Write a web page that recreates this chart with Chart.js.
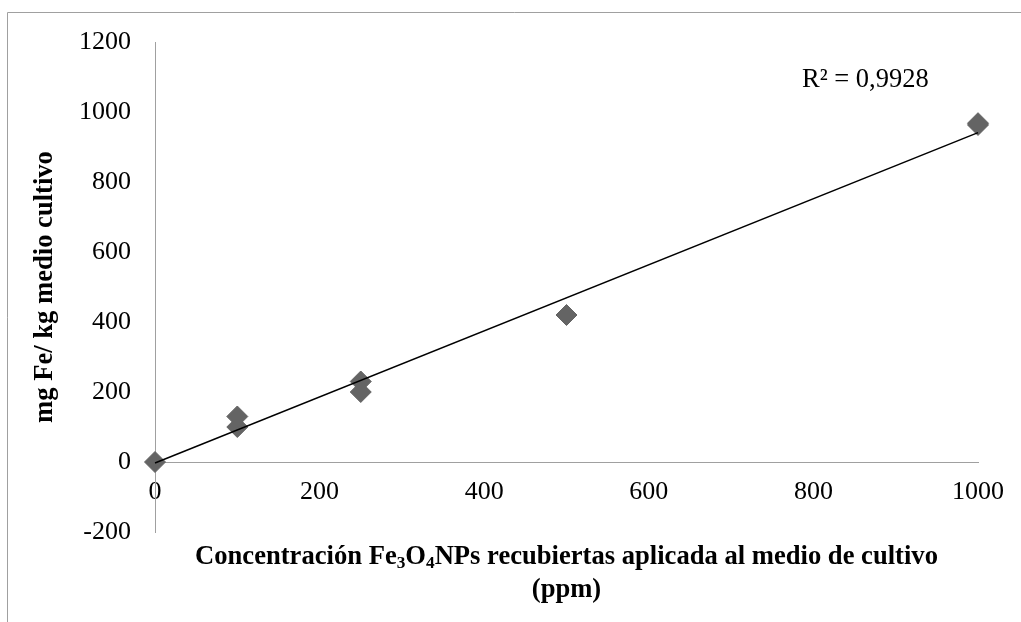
<!DOCTYPE html>
<html><head><meta charset="utf-8">
<script src="https://cdn.jsdelivr.net/npm/chart.js@4.4.1/dist/chart.umd.min.js"></script>
<style>html,body{margin:0;padding:0;background:#fff;overflow:hidden}#wrap{position:relative;width:1021px;height:622px}</style>
</head><body><div id="wrap"><canvas id="c" width="1021" height="622"></canvas></div>
<script>
const xValues = [0, 100, 100, 250, 250, 500, 1000, 1000];
const yValues = [0, 100, 130, 200, 230, 420, 963, 968];
const trendX = [0, 1000];
const trendY = [-3, 941];
const xTicks = [0, 200, 400, 600, 800, 1000];
const yTicks = [-200, 0, 200, 400, 600, 800, 1000, 1200];
const rSquaredLabel = 'R² = 0,9928';
const yTitle = 'mg Fe/ kg medio cultivo';
const xTitleRuns = [['Concentración Fe', false], ['3', true], ['O', false], ['4', true], ['NPs recubiertas aplicada al medio de cultivo', false]];
const xTitleLine2 = '(ppm)';

const FAMILY = "'Liberation Serif', 'Times New Roman', serif";
const AXIS_GRAY = '#a0a0a0';

const decor = {
  id: 'decor',
  beforeDraw(chart) {
    const ctx = chart.ctx;
    ctx.save();
    ctx.fillStyle = '#fff';
    ctx.fillRect(0, 0, chart.width, chart.height);
    ctx.strokeStyle = AXIS_GRAY;
    ctx.lineWidth = 1;
    ctx.beginPath();
    ctx.moveTo(7.5, chart.height);
    ctx.lineTo(7.5, 12.5);
    ctx.lineTo(chart.width, 12.5);
    ctx.stroke();
    ctx.restore();
  },
  afterDraw(chart) {
    const ctx = chart.ctx;
    const area = chart.chartArea;
    ctx.save();
    ctx.fillStyle = '#000';
    ctx.textBaseline = 'middle';
    // R² label
    ctx.font = '26.5px ' + FAMILY;
    ctx.textAlign = 'left';
    ctx.fillText(rSquaredLabel, area.right - 176, area.top + 38);
    // X title with subscripts
    const big = 'bold 26.6px ' + FAMILY;
    const small = 'bold 17.3px ' + FAMILY;
    let total = 0;
    for (const [t, sub] of xTitleRuns) { ctx.font = sub ? small : big; total += ctx.measureText(t).width; }
    const cx = (area.left + area.right) / 2;
    let x = cx - total / 2;
    const y1 = area.bottom + 25;
    for (const [t, sub] of xTitleRuns) {
      ctx.font = sub ? small : big;
      ctx.fillText(t, x, sub ? y1 + 7 : y1);
      x += ctx.measureText(t).width;
    }
    ctx.font = big;
    ctx.textAlign = 'center';
    ctx.fillText(xTitleLine2, cx, y1 + 33);
    ctx.restore();
  }
};

const plainTick = v => String(v);

new Chart(document.getElementById('c'), {
  type: 'scatter',
  data: {
    datasets: [
      {
        type: 'line',
        label: 'Tendencia',
        data: trendX.map((v, i) => ({ x: v, y: trendY[i] })),
        borderColor: '#000',
        borderWidth: 1.5,
        pointRadius: 0,
        fill: false,
        clip: false,
        order: 0
      },
      {
        label: 'Datos',
        data: xValues.map((v, i) => ({ x: v, y: yValues[i] })),
        pointStyle: 'rectRot',
        pointRadius: 10.5,
        pointHoverRadius: 10.5,
        backgroundColor: '#646464',
        borderColor: '#646464',
        borderWidth: 1,
        clip: false,
        order: 1
      }
    ]
  },
  options: {
    responsive: false,
    animation: false,
    devicePixelRatio: 1,
    layout: { padding: { left: 0, top: 42, right: 43, bottom: 90 } },
    plugins: { legend: { display: false }, tooltip: { enabled: false } },
    scales: {
      x: {
        type: 'linear',
        position: { y: 0 },
        min: 0, max: 1000,
        afterBuildTicks: s => { s.ticks = xTicks.map(v => ({ value: v })); },
        grid: { display: false, drawTicks: false },
        border: { display: true, color: AXIS_GRAY, width: 1 },
        ticks: { color: '#000', font: { family: FAMILY, size: 26 }, padding: 15, maxRotation: 0, callback: plainTick }
      },
      y: {
        type: 'linear',
        position: 'left',
        min: -200, max: 1200,
        afterBuildTicks: s => { s.ticks = yTicks.map(v => ({ value: v })); },
        afterFit: s => { s.width = 155; },
        grid: { display: false, drawTicks: false },
        border: { display: true, color: AXIS_GRAY, width: 1 },
        ticks: { color: '#000', font: { family: FAMILY, size: 26 }, padding: 24, callback: plainTick },
        title: { display: true, text: yTitle, color: '#000', font: { family: FAMILY, size: 26.6, weight: 'bold' }, padding: { top: 29, bottom: 0 } }
      }
    }
  },
  plugins: [decor]
});
</script>
</body></html>
